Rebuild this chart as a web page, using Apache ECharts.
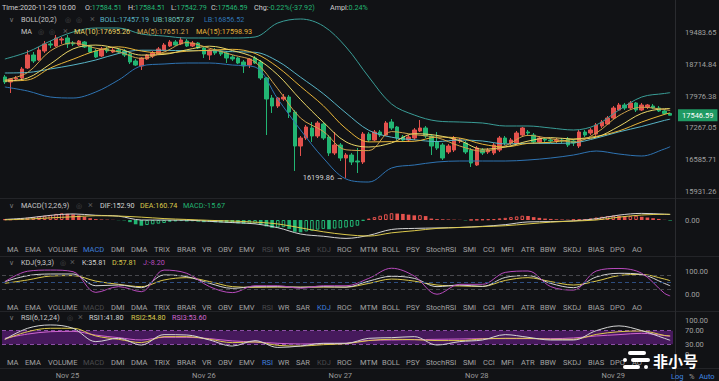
<!DOCTYPE html>
<html><head><meta charset="utf-8">
<script src="https://cdn.jsdelivr.net/npm/echarts@6/dist/echarts.min.js"></script>
<style>html,body{margin:0;padding:0;background:#111215;}#c{width:719px;height:381px;}</style>
</head><body><div id="c"></div>
<script>
// ---------- DATA ----------
const START_UTC = Date.UTC(2020, 10, 24, 13); // first candle: 2020-11-24 13:00, hourly
const CANDLE_COUNT = 118;
// [open, close, low, high]
const CANDLES = [
[18422,18305,18258,18469],[18305,18375,18050,18398],[18375,18398,18328,18445],[18398,18610,18351,18658],[18634,18945,18610,19066],
[18945,18801,18753,19018],[18825,19066,18801,19139],[19042,19213,18994,19286],[19213,19188,19115,19286],[19164,19360,19139,19434],
[19311,19335,19213,19385],[19360,19213,19115,19434],[19237,19213,19164,19286],[19188,19286,19164,19311],[19262,19139,19115,19286],
[19164,19018,18994,19188],[19042,18897,18873,19091],[18921,19091,18897,19139],[19091,19042,18994,19139],[19018,19066,18994,19115],
[19066,19018,18969,19115],[19042,18945,18897,19091],[18969,18777,18729,18994],[18801,18705,18682,18849],[18682,18873,18587,18897],
[18849,18945,18825,18969],[18921,18994,18873,19042],[18969,19091,18945,19139],[19066,19188,19042,19237],[19164,19262,19139,19311],
[19262,19188,19164,19311],[19213,19311,19188,19385],[19286,19164,19139,19335],[19164,19237,19139,19286],[19237,19115,19091,19262],
[19115,18969,18873,19139],[18945,19066,18825,19091],[19066,18994,18945,19115],[19042,18969,18921,19066],[18994,18873,18753,19042],
[18897,18849,18801,18945],[18873,18753,18729,18897],[18777,18682,18516,18825],[18705,18849,18634,18873],[18873,18753,18729,18921],
[18777,18398,18351,18825],[18398,17912,17109,18422],[17935,17753,17596,18004],[17753,17935,17708,17958],[17912,17958,17867,18027],
[17958,17618,17484,18004],[17618,16871,16343,17663],[16871,17044,16658,17088],[17044,17285,17001,17329],[17263,17088,16958,17395],
[17088,17373,17044,17417],[17351,17044,17001,17395],[17066,16722,16658,17109],[16722,16893,16679,17175],[16893,16615,16552,16936],
[16615,16679,16199.86,16722],[16679,16531,16468,16722],[16552,16531,16301,16828],[16531,17131,16489,17175],[17131,17001,16958,17175],
[17001,17175,16979,17219],[17175,17109,17066,17219],[17109,17373,17088,17417],[17395,17263,17219,17462],[17285,17044,17001,17307],
[17066,17001,16958,17109],[17001,17066,16958,17109],[17044,17219,17001,17263],[17197,17263,17175,17440],[17263,17088,17044,17307],
[17088,16871,16679,17131],[16958,16828,16786,17175],[16893,16615,16573,16936],[16743,16871,16700,16914],[16786,17044,16743,17088],
[16979,17001,16936,17044],[16936,16743,16700,16979],[16786,16510,16426,16828],[16468,16828,16447,16871],[16786,16722,16679,16828],
[16743,16786,16700,16828],[16722,16893,16679,16936],[16786,17044,16743,17088],[17044,16936,16893,17088],[16936,17001,16893,17044],
[16936,17153,16893,17197],[17109,17263,17066,17285],[17175,17153,17109,17219],[17109,16958,16914,17153],[16958,17044,16914,17088],
[17023,17001,16958,17066],[17001,16979,16936,17044],[16979,17001,16936,17044],[17001,16979,16936,17044],[17023,16893,16850,17066],
[16979,16936,16871,17023],[16871,17175,16828,17219],[17175,17109,17066,17219],[17153,17219,17109,17263],[17131,17329,17088,17373],
[17307,17395,17263,17440],[17351,17484,17329,17529],[17484,17708,17462,17753],[17663,17776,17641,17822],[17776,17708,17663,17822],
[17708,17822,17686,17867],[17822,17663,17618,17844],[17663,17776,17641,17822],[17731,17776,17686,17799],[17753,17708,17686,17799],
[17708,17641,17618,17753],[17641,17585,17551,17686],[17584.51,17546.59,17542.79,17584.51]
];
// indicator lines read at these candle indices
const SAMPLE_IDX = [0,4,8,12,16,20,24,28,32,36,40,44,48,52,56,60,64,68,72,76,80,84,88,92,96,100,104,108,112,116,117];
const MA5  = [18351,18525,19042,19240,19109,19023,18863,19018,19247,19109,18950,18777,18147,17482,17188,16790,16773,17184,17118,17053,16871,16760,16876,17101,17029,16958,17153,17538,17726,17674,17651.21];
const MA10 = [18328,18398,18729,19093,19186,19098,18943,18960,19071,19159,19054,18875,18471,17899,17393,16960,16850,16938,17138,17101,16986,16803,16850,16977,17053,17021,17062,17300,17587,17692,17695.26];
const MA15 = [18328,18351,18634,18844,19044,19144,19042,18987,19037,19059,19083,18984,18653,18202,17760,17247,16960,16966,16973,17064,17042,16910,16852,16929,16951,17016,17079,17199,17395,17565,17598.93];
const BOLL_MB = [18516,18528,18611,18705,18825,18982,19061,19059,19049,19052,19025,19011,18796,18417,18034,17596,17212,17062,17005,16968,17001,16979,16916,16929,16927,16940,17042,17178,17296,17431,17457.19];
const BOLL_UB = [18849,19018,19286,19509,19608,19608,19459,19409,19360,19360,19360,19385,19734,19834,19658,19139,18422,17799,17551,17417,17395,17373,17307,17307,17263,17219,17329,17663,17958,18039,18057.87];
const BOLL_LB = [18189,18096,17958,17935,18073,18351,18682,18729,18753,18753,18705,18658,17912,17219,16615,16177,16115,16405,16468,16531,16552,16552,16552,16573,16615,16679,16764,16700,16658,16807,16856.52];
const MACD_HIST = [
20,20,25,47,65,84,103,121,140,170, 187,175,160,130,90,50,25,15,10,5,
-5,-10,-60,-120,-160,-140,-121,-103,-84,-50, -40,-30,-40,-35,-45,-60,-55,-65,-70,-80,
-85,-95,-105,-100,-95,-120,-180,-220,-210,-200, -250,-330,-345,-320,-300,-270,-250,-260,-240,-230,
-210,-190,-160,-20,40,80,120,160,190,180, 170,150,130,135,110,40,25,20,15,10,
5,-10,5,10,15,20,25,45,60,80, 100,120,112,80,60,40,30,20,15,10,
10,15,20,45,70,90,110,125,115,100, 110,120,90,70,50,30,5,-15.67];
const DIF = [15,57,130,170,132,108,0,-2,-5,-37,-72,-107,-215,-392,-455,-515,-430,-265,-235,-223,-208,-178,-130,-54,-45,-25,35,137,185,162,152.90];
const DEA = [5,25,60,90,120,110,80,40,15,-10,-30,-60,-110,-220,-330,-410,-450,-360,-300,-235,-210,-185,-160,-110,-60,-30,0,80,140,160,160.74];
const KDJ_K = [53.6,79.7,87,87,36,39,27.5,82.6,75.4,46.4,24.6,32,32,29,32,30,56,77,68,32,39,33,72,80,46,27.5,74,90,85,46,35.81];
const KDJ_D = [46.4,61,78,80,56,42,32,61,71,54,32,29,30,30,30,30,46,65,56,39,35,33,59,71,54,39,56,80,85,65,57.81];
const KDJ_J = [54,99,104,97,7,32,10,104,90,32,6,36,36,25,36,36,68,112,78,-1,42,42,94,100,32,17,100,111,90,3,-8.2];
const RSI1 = [44.7,76.9,86.7,76.9,37.9,47.6,28,58.4,57.4,42.7,25,40.8,21,25,33,33,47.6,49.5,52.5,28,38,42.7,58.4,50.6,42.7,42.7,70,84,70,47.6,41.8];
const RSI2 = [44.7,67,77,77,54.5,44.7,35,52.5,52.5,44.7,35,37,27,25,29,32,41,44.7,43.7,41,41,45.6,47.6,47.6,44.7,44.7,59,67,69,56,54.8];
const RSI3 = [47.6,60,67,68,57,49.5,42.7,50.6,50.6,46.7,40,37,33,31,32,33,41.7,42.7,43.7,44.7,45.6,46.7,46.7,46.7,46.7,48.6,54.5,58.4,62.3,55.5,53.6];
const PRICE_TICKS = [15931.26,16585.71,17267.05,17976.38,18714.84,19483.65];
const KDJ_LEVELS = [80,50,20];
const RSI_BAND = [30,70];
const MONTHS = ['Jan','Feb','Mar','Apr','May','Jun','Jul','Aug','Sep','Oct','Nov','Dec'];
const HEADER_TEXT = {time:'2020-11-29 10:00', o:'17584.51', h:'17584.51', l:'17542.79', c:'17546.59', chg:'-0.22%(-37.92)', ampl:'0.24%'};
const LEGEND_BOLL = ['BOLL:17457.19','UB:18057.87','LB:16856.52'];
const LEGEND_MA = ['MA(10):17695.26','MA(5):17651.21','MA(15):17598.93'];
const LEGEND_MACD = ['DIF:152.90','DEA:160.74','MACD:-15.67'];
const LEGEND_KDJ = ['K:35.81','D:57.81','J:-8.20'];
const LEGEND_RSI = ['RSI1:41.80','RSI2:54.80','RSI3:53.60'];
const BUTTONS = ['MA','EMA','VOLUME','MACD','DMI','DMA','TRIX','BRAR','VR','OBV','EMV','RSI','WR','SAR','KDJ','ROC','MTM','BOLL','PSY','StochRSI','SMI','CCI','MFI','ATR','BBW','SKDJ','BIAS','DPO','AO'];

// ---------- STYLE ----------
const BG='#111215', RED='#e4524d', GREEN='#22b573';
const C_UB='#3a9d97', C_MB='#58b4c6', C_LB='#2f74b3';
const C_MA5='#cfa24c', C_MA10='#e9d668', C_MA15='#e8b63a';
const C_W='#d4d4d4', C_Y='#dcc94c', C_M='#b94bbd', C_P='#d065d0';
const FONT='Roboto, "Noto Sans", sans-serif';
const FS = 7.2;
const BTN_X = [7,25,48,83,111,131,154,177,202,218,239,262,278,296,317,337,360,382,406,426,463,483,501,521,540,563,588,610,632];

const CATS = [];
for (let i = 0; i < CANDLE_COUNT; i++) {
  const d = new Date(START_UTC + i * 3600000);
  const p = n => String(n).padStart(2,'0');
  CATS.push(d.getUTCFullYear()+'-'+p(d.getUTCMonth()+1)+'-'+p(d.getUTCDate())+' '+p(d.getUTCHours())+':00');
}
const pairs = arr => SAMPLE_IDX.map((idx,k) => [idx, arr[k]]);
const lastC = CANDLES[CANDLES.length-1];
const minIdx = CANDLES.reduce((m,c,i)=> c[2] < CANDLES[m][2] ? i : m, 0);

const macdBars = MACD_HIST.map((v,i) => {
  const prev = i > 0 ? MACD_HIST[i-1] : v;
  const pos = v >= 0;
  const col = pos ? RED : GREEN;
  const hollow = pos ? v >= prev : v > prev;
  return {value: v, itemStyle: hollow ? {color:'rgba(0,0,0,0)', borderColor: col, borderWidth: 1} : {color: col, borderWidth: 0}};
});

// ---------- GRAPHIC TEXT ----------
function T(x, y, text, fill, size, extra) {
  const st = Object.assign({text, fill, fontSize: size || FS, fontFamily: FONT, verticalAlign: 'middle', align: 'left'}, extra || {});
  return {type:'text', x, y, silent: true, z: 100, style: st};
}
function RT(x, y, label, value, valColor) {
  return T(x, y, label + '{v|' + value + '}', '#cfcfcf', FS, {rich: {v: {fill: valColor, fontSize: FS, fontFamily: FONT}}});
}
const G = [];
// separators
[198.5, 256.5, 311.5, 368.5].forEach(y => G.push({type:'line', silent:true, z:1, shape:{x1:0,y1:y,x2:719,y2:y}, style:{stroke:'#232428', lineWidth:1}}));
G.push({type:'line', silent:true, z:1, shape:{x1:675.5,y1:0,x2:675.5,y2:381}, style:{stroke:'#2a2b2f', lineWidth:1}});
// header
G.push(T(2, 7, 'Time:' + HEADER_TEXT.time, '#cfcfcf'));
G.push(RT(85, 7, 'O:', HEADER_TEXT.o, GREEN));
G.push(RT(128, 7, 'H:', HEADER_TEXT.h, GREEN));
G.push(RT(171, 7, 'L:', HEADER_TEXT.l, GREEN));
G.push(RT(211, 7, 'C:', HEADER_TEXT.c, GREEN));
G.push(RT(254, 7, 'Chg:', HEADER_TEXT.chg, GREEN));
G.push(RT(330, 7, 'Ampl:', HEADER_TEXT.ampl, GREEN));
// BOLL legend
G.push(T(9, 19, '∨', '#7a7a7a'));
G.push(T(21, 19, 'BOLL(20,2)', '#c8c8c8'));
G.push(T(65, 19, '◎', '#4a4a4a')); G.push(T(76, 19, '◎', '#4a4a4a')); G.push(T(90, 19, '×', '#5a5a5a', 9));
G.push(T(100, 19, LEGEND_BOLL[0], C_MB));
G.push(T(153, 19, LEGEND_BOLL[1], '#6cc2b6'));
G.push(T(204, 19, LEGEND_BOLL[2], C_LB));
// MA legend
G.push(T(21, 31, 'MA', '#c8c8c8'));
G.push(T(38, 31, '◎', '#4a4a4a')); G.push(T(49, 31, '◎', '#4a4a4a')); G.push(T(63, 31, '×', '#5a5a5a', 9));
G.push(T(74, 31, LEGEND_MA[0], C_MA10));
G.push(T(137, 31, LEGEND_MA[1], C_MA5));
G.push(T(196, 31, LEGEND_MA[2], C_MA15));
// MACD legend
G.push(T(9, 205, '∨', '#7a7a7a')); G.push(T(21, 205, 'MACD(12,26,9)', '#c8c8c8'));
G.push(T(76, 205, '◎', '#4a4a4a')); G.push(T(88, 205, '×', '#5a5a5a', 9));
G.push(T(100, 205, LEGEND_MACD[0], C_W)); G.push(T(140, 205, LEGEND_MACD[1], C_Y)); G.push(T(183, 205, LEGEND_MACD[2], GREEN));
// KDJ legend
G.push(T(9, 262, '∨', '#7a7a7a')); G.push(T(21, 262, 'KDJ(9,3,3)', '#c8c8c8'));
G.push(T(60, 262, '◎', '#4a4a4a')); G.push(T(70, 262, '×', '#5a5a5a', 9));
G.push(T(82, 262, LEGEND_KDJ[0], C_W)); G.push(T(112, 262, LEGEND_KDJ[1], C_Y)); G.push(T(143, 262, LEGEND_KDJ[2], C_M));
// RSI legend
G.push(T(9, 317, '∨', '#7a7a7a')); G.push(T(21, 317, 'RSI(6,12,24)', '#c8c8c8'));
G.push(T(67, 317, '◎', '#4a4a4a')); G.push(T(78, 317, '×', '#5a5a5a', 9));
G.push(T(89, 317, LEGEND_RSI[0], C_W)); G.push(T(131, 317, LEGEND_RSI[1], C_Y)); G.push(T(172, 317, LEGEND_RSI[2], C_P));
// button bars
function buttonBar(y, active) {
  BUTTONS.forEach((b, k) => {
    let col = '#a3a3a3';
    if (b === active) col = '#3f7fdc';
    else if (b === 'MACD' || b === 'RSI' || b === 'KDJ') col = '#4a4a4d';
    G.push(T(BTN_X[k], y, b, col, 7.5));
  });
}
buttonBar(249, 'MACD'); buttonBar(307, 'KDJ'); buttonBar(362, 'RSI');
// bottom right
G.push(T(671, 376, 'Log', '#3f86e0', 7.5)); G.push(T(689, 376, '%', '#9a9a9a', 7.5)); G.push(T(699, 376, 'Auto', '#3f86e0', 7.5));
// watermark
[[628,351,18,4],[623,358,4,4],[631,358,19,4],[623,365,17,4],[644,365,4,4]].forEach(r =>
  G.push({type:'rect', silent:true, z:200, shape:{x:r[0],y:r[1],width:r[2],height:r[3],r:2}, style:{fill:'#ffffff'}}));
G.push({type:'text', x:653, y:360, silent:true, z:200, style:{text:'非小号', fill:'#ffffff', fontSize:15, fontWeight:'bold', fontFamily:'"Noto Sans CJK SC", sans-serif', verticalAlign:'middle'}});

// ---------- AXES ----------
const GRIDS = [
  {left:2, right:46, top:12, height:186},
  {left:2, right:46, top:209, height:33},
  {left:2, right:46, top:264.1, height:36.8},
  {left:2, right:46, top:317, height:41}
].map(g => Object.assign({outerBoundsMode:'none', containLabel:false, show:false}, g));
const labelStyle = {color:'#a0a0a0', fontSize:7.5, fontFamily:FONT, margin:12};
const xAxes = GRIDS.map((g, k) => ({
  type:'category', gridIndex:k, data:CATS, boundaryGap:true,
  axisLine:{show:false}, axisTick:{show:false}, splitLine:{show:false},
  axisLabel: k === 3 ? {
    show:true, color:'#9a9a9a', fontSize:7.5, fontFamily:FONT, margin:13,
    interval:(i, v) => v.slice(11,13) === '00',
    formatter: v => MONTHS[parseInt(v.slice(5,7),10)-1] + ' ' + parseInt(v.slice(8,10),10)
  } : {show:false}
}));
function yAx(k, extra) {
  return Object.assign({gridIndex:k, position:'right', axisLine:{show:false}, axisTick:{show:false}, splitLine:{show:false}}, extra);
}
const yAxes = [
  yAx(0, {type:'log', min:15790.1, max:20011.9, axisLabel:Object.assign({customValues:PRICE_TICKS, formatter:v => Number(v).toFixed(2)}, labelStyle)}),
  yAx(1, {type:'value', min:-616, max:308, interval:308, axisLabel:Object.assign({formatter:v => v === 0 ? '0.00' : ''}, labelStyle)}),
  yAx(2, {type:'value', min:-30, max:130, interval:10, axisLabel:Object.assign({formatter:v => (v === 0 || v === 100) ? v.toFixed(2) : ''}, labelStyle)}),
  yAx(3, {type:'value', min:-10, max:110, interval:10, axisLabel:Object.assign({formatter:v => (v === 30 || v === 70 || v === 100) ? v.toFixed(2) : (v === 0 ? '0' : '')}, labelStyle)})
];

function L(name, arr, color, grid, extra) {
  return Object.assign({type:'line', name, data:pairs(arr), xAxisIndex:grid, yAxisIndex:grid, symbol:'none', smooth:0.35,
    lineStyle:{color, width:1}, itemStyle:{color}, silent:true, z:3}, extra || {});
}

const series = [
  {type:'candlestick', name:'K', data:CANDLES, xAxisIndex:0, yAxisIndex:0, barWidth:4, z:2,
   itemStyle:{color:RED, color0:GREEN, borderColor:RED, borderColor0:GREEN, borderWidth:1},
   markPoint:{symbol:'circle', symbolSize:1, itemStyle:{color:'rgba(0,0,0,0)'}, silent:true,
     data:[{coord:[minIdx, CANDLES[minIdx][2]], value:CANDLES[minIdx][2]}],
     label:{show:true, position:'left', distance:2, formatter:p => Number(p.value).toFixed(2) + ' →', color:'#d0d0d0', fontSize:7.5, fontFamily:FONT}},
   markLine:{symbol:'none', silent:true, lineStyle:{color:'rgba(0,0,0,0)', width:0},
     data:[{yAxis:lastC[1]}],
     label:{show:true, position:'end', distance:5, formatter:lastC[1].toFixed(2), backgroundColor:'#1f9a63', color:'#ffffff', padding:[2,4,2,4], fontSize:7.5, fontFamily:FONT}}},
  L('UB', BOLL_UB, C_UB, 0),
  L('MB', BOLL_MB, C_MB, 0),
  L('LB', BOLL_LB, C_LB, 0),
  L('MA15', MA15, C_MA15, 0),
  L('MA10', MA10, C_MA10, 0),
  L('MA5', MA5, C_MA5, 0),
  {type:'bar', name:'MACD', data:macdBars, xAxisIndex:1, yAxisIndex:1, barWidth:3.6, silent:true, z:2},
  L('DIF', DIF, C_W, 1),
  L('DEA', DEA, C_Y, 1),
  L('D', KDJ_D, C_Y, 2),
  L('K', KDJ_K, C_W, 2, {markLine:{symbol:'none', silent:true, label:{show:false},
     data: KDJ_LEVELS.map(v => ({yAxis:v, lineStyle:{color: v === 50 ? '#2d4d80' : '#47484d', type:[4,3], width:1}}))}}),
  L('J', KDJ_J, C_M, 2),
  L('RSI3', RSI3, C_P, 3, {z:4, markArea:{silent:true, itemStyle:{color:'#46195c'}, data:[[{yAxis:RSI_BAND[0]},{yAxis:RSI_BAND[1]}]]},
     markLine:{symbol:'none', silent:true, label:{show:false}, lineStyle:{color:'#8c4fa6', type:[4,3], width:1},
       data: RSI_BAND.map(v => ({yAxis:v}))}}),
  L('RSI2', RSI2, C_Y, 3, {z:5}),
  L('RSI1', RSI1, C_W, 3, {z:6})
];

const chart = echarts.init(document.getElementById('c'), null, {renderer:'svg', width:719, height:381});
chart.setOption({
  backgroundColor: BG,
  animation:false,
  grid: GRIDS,
  xAxis: xAxes,
  yAxis: yAxes,
  series,
  graphic: {elements: G}
});
</script>
</body></html>
